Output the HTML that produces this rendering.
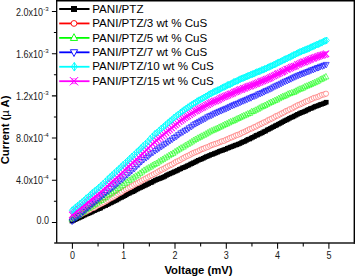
<!DOCTYPE html>
<html><head><meta charset="utf-8"><style>html,body{margin:0;padding:0;background:#fff;overflow:hidden}svg{display:block}text{font-family:"Liberation Sans",sans-serif}</style></head><body>
<svg width="355" height="276" viewBox="0 0 355 276">
<defs>
<symbol id="d-black" overflow="visible"><rect x="-2.3" y="-2.3" width="4.6" height="4.6" fill="#000"/></symbol>
<symbol id="d-red" overflow="visible"><circle r="2.6" fill="#fff" stroke="#ff5a5a" stroke-width="0.6"/></symbol>
<symbol id="d-green" overflow="visible"><path d="M0,-3.2 L3.0,2.3 L-3.0,2.3 Z" fill="none" stroke="#00ff00" stroke-width="0.55"/></symbol>
<symbol id="d-blue" overflow="visible"><path d="M0,3.2 L3.0,-2.3 L-3.0,-2.3 Z" fill="none" stroke="#0000ff" stroke-width="0.65"/></symbol>
<symbol id="d-cyan" overflow="visible"><path d="M0,-3.4 L2.8,0 L0,3.4 L-2.8,0 Z M0,-3.4 V3.4" fill="none" stroke="#00ffff" stroke-width="0.85"/></symbol>
<symbol id="d-magenta" overflow="visible"><path d="M-3.0,-3.3 L3.0,3.3 M3.0,-3.3 L-3.0,3.3" fill="none" stroke="#ff00ff" stroke-width="1.1"/></symbol>

<symbol id="l-black" overflow="visible"><rect x="-3" y="-3" width="6" height="6" fill="#000"/></symbol>
<symbol id="l-red" overflow="visible"><circle r="2.9" fill="#fff" stroke="#ff0000" stroke-width="0.9"/></symbol>
<symbol id="l-green" overflow="visible"><path d="M0,-4.2 L3.6,2.6 L-3.6,2.6 Z" fill="#fff" stroke="#00ff00" stroke-width="0.9"/></symbol>
<symbol id="l-blue" overflow="visible"><path d="M0,4.2 L3.6,-2.6 L-3.6,-2.6 Z" fill="#fff" stroke="#0000ff" stroke-width="0.9"/></symbol>
<symbol id="l-cyan" overflow="visible"><path d="M0.3,-4.3 L3.3,0 L0.3,4.3 L-2.7,0 Z" fill="none" stroke="#00ffff" stroke-width="0.9"/><path d="M0.4,-4.3 V4.3" stroke="#00ffff" stroke-width="1"/></symbol>
<symbol id="l-magenta" overflow="visible"><path d="M-4.2,-4.2 L4.2,4.2 M4.2,-4.2 L-4.2,4.2" fill="none" stroke="#ff00ff" stroke-width="1"/><path d="M-2.6,-2.4 L2.6,-2.4 L-2.6,2.4 L2.6,2.4 Z" fill="none" stroke="#ff00ff" stroke-width="0.6"/></symbol>
</defs>
<rect width="355" height="276" fill="#fff"/>
<g><use href="#d-black" x="71.9" y="221.1"/><use href="#d-black" x="73.6" y="220.4"/><use href="#d-black" x="75.2" y="219.7"/><use href="#d-black" x="76.8" y="218.8"/><use href="#d-black" x="78.5" y="218.1"/><use href="#d-black" x="80.1" y="217.4"/><use href="#d-black" x="81.6" y="216.7"/><use href="#d-black" x="83.1" y="215.9"/><use href="#d-black" x="84.8" y="215.1"/><use href="#d-black" x="86.3" y="214.3"/><use href="#d-black" x="88.1" y="213.7"/><use href="#d-black" x="89.7" y="212.9"/><use href="#d-black" x="91.3" y="212.3"/><use href="#d-black" x="92.8" y="211.4"/><use href="#d-black" x="94.5" y="210.7"/><use href="#d-black" x="95.8" y="209.9"/><use href="#d-black" x="97.5" y="209.4"/><use href="#d-black" x="99.2" y="208.7"/><use href="#d-black" x="100.7" y="208.1"/><use href="#d-black" x="102.5" y="206.9"/><use href="#d-black" x="103.8" y="206.1"/><use href="#d-black" x="105.7" y="205.6"/><use href="#d-black" x="107.2" y="204.7"/><use href="#d-black" x="108.8" y="203.9"/><use href="#d-black" x="110.5" y="203.0"/><use href="#d-black" x="111.9" y="202.4"/><use href="#d-black" x="113.5" y="201.5"/><use href="#d-black" x="115.1" y="200.8"/><use href="#d-black" x="116.8" y="200.0"/><use href="#d-black" x="118.4" y="199.0"/><use href="#d-black" x="120.0" y="198.0"/><use href="#d-black" x="121.6" y="197.4"/><use href="#d-black" x="123.2" y="196.6"/><use href="#d-black" x="124.9" y="195.7"/><use href="#d-black" x="126.4" y="194.8"/><use href="#d-black" x="128.0" y="193.8"/><use href="#d-black" x="129.5" y="193.2"/><use href="#d-black" x="131.2" y="192.3"/><use href="#d-black" x="132.9" y="191.7"/><use href="#d-black" x="134.4" y="190.9"/><use href="#d-black" x="136.0" y="189.9"/><use href="#d-black" x="137.6" y="189.0"/><use href="#d-black" x="139.2" y="188.2"/><use href="#d-black" x="140.8" y="187.5"/><use href="#d-black" x="142.4" y="186.8"/><use href="#d-black" x="144.1" y="185.9"/><use href="#d-black" x="145.6" y="185.2"/><use href="#d-black" x="147.2" y="184.5"/><use href="#d-black" x="148.7" y="183.6"/><use href="#d-black" x="150.4" y="182.8"/><use href="#d-black" x="151.9" y="182.3"/><use href="#d-black" x="153.5" y="181.2"/><use href="#d-black" x="155.3" y="180.4"/><use href="#d-black" x="156.9" y="179.6"/><use href="#d-black" x="158.3" y="179.0"/><use href="#d-black" x="160.1" y="178.5"/><use href="#d-black" x="161.5" y="177.8"/><use href="#d-black" x="163.2" y="177.2"/><use href="#d-black" x="164.8" y="176.4"/><use href="#d-black" x="166.4" y="175.4"/><use href="#d-black" x="167.9" y="174.6"/><use href="#d-black" x="169.6" y="173.9"/><use href="#d-black" x="171.2" y="173.2"/><use href="#d-black" x="172.9" y="172.5"/><use href="#d-black" x="174.2" y="171.8"/><use href="#d-black" x="176.0" y="171.1"/><use href="#d-black" x="177.5" y="170.4"/><use href="#d-black" x="179.2" y="169.4"/><use href="#d-black" x="180.8" y="168.8"/><use href="#d-black" x="182.5" y="167.8"/><use href="#d-black" x="184.1" y="167.4"/><use href="#d-black" x="185.7" y="166.6"/><use href="#d-black" x="187.2" y="165.8"/><use href="#d-black" x="188.9" y="165.1"/><use href="#d-black" x="190.6" y="164.1"/><use href="#d-black" x="192.0" y="163.6"/><use href="#d-black" x="193.5" y="162.7"/><use href="#d-black" x="195.3" y="162.0"/><use href="#d-black" x="196.8" y="161.1"/><use href="#d-black" x="198.3" y="160.3"/><use href="#d-black" x="200.1" y="159.6"/><use href="#d-black" x="201.6" y="159.0"/><use href="#d-black" x="203.3" y="158.3"/><use href="#d-black" x="204.9" y="157.4"/><use href="#d-black" x="206.3" y="156.7"/><use href="#d-black" x="208.0" y="156.1"/><use href="#d-black" x="209.6" y="155.4"/><use href="#d-black" x="211.2" y="154.6"/><use href="#d-black" x="212.9" y="154.2"/><use href="#d-black" x="214.3" y="153.5"/><use href="#d-black" x="215.9" y="152.9"/><use href="#d-black" x="217.6" y="152.2"/><use href="#d-black" x="219.2" y="151.4"/><use href="#d-black" x="220.8" y="150.8"/><use href="#d-black" x="222.5" y="150.4"/><use href="#d-black" x="223.9" y="149.7"/><use href="#d-black" x="225.6" y="149.2"/><use href="#d-black" x="227.3" y="148.3"/><use href="#d-black" x="228.8" y="147.8"/><use href="#d-black" x="230.4" y="147.1"/><use href="#d-black" x="232.0" y="146.6"/><use href="#d-black" x="233.6" y="145.9"/><use href="#d-black" x="235.2" y="145.2"/><use href="#d-black" x="236.8" y="144.8"/><use href="#d-black" x="238.3" y="144.1"/><use href="#d-black" x="240.0" y="143.5"/><use href="#d-black" x="241.7" y="142.5"/><use href="#d-black" x="243.2" y="141.9"/><use href="#d-black" x="244.9" y="141.3"/><use href="#d-black" x="246.4" y="140.4"/><use href="#d-black" x="247.9" y="139.4"/><use href="#d-black" x="249.7" y="139.0"/><use href="#d-black" x="251.2" y="138.1"/><use href="#d-black" x="252.7" y="137.3"/><use href="#d-black" x="254.4" y="136.6"/><use href="#d-black" x="256.0" y="135.4"/><use href="#d-black" x="257.6" y="135.0"/><use href="#d-black" x="259.2" y="134.1"/><use href="#d-black" x="260.8" y="133.3"/><use href="#d-black" x="262.3" y="132.8"/><use href="#d-black" x="263.9" y="131.7"/><use href="#d-black" x="265.6" y="131.1"/><use href="#d-black" x="267.2" y="129.9"/><use href="#d-black" x="268.8" y="129.2"/><use href="#d-black" x="270.4" y="128.4"/><use href="#d-black" x="272.0" y="127.5"/><use href="#d-black" x="273.6" y="126.7"/><use href="#d-black" x="275.3" y="125.8"/><use href="#d-black" x="276.7" y="125.1"/><use href="#d-black" x="278.4" y="124.2"/><use href="#d-black" x="280.0" y="123.4"/><use href="#d-black" x="281.6" y="122.5"/><use href="#d-black" x="283.1" y="121.7"/><use href="#d-black" x="284.8" y="120.7"/><use href="#d-black" x="286.5" y="120.0"/><use href="#d-black" x="288.0" y="119.2"/><use href="#d-black" x="289.5" y="118.3"/><use href="#d-black" x="291.1" y="117.5"/><use href="#d-black" x="292.8" y="116.9"/><use href="#d-black" x="294.2" y="116.1"/><use href="#d-black" x="296.0" y="115.2"/><use href="#d-black" x="297.5" y="114.3"/><use href="#d-black" x="299.3" y="113.6"/><use href="#d-black" x="300.8" y="112.8"/><use href="#d-black" x="302.4" y="112.3"/><use href="#d-black" x="304.0" y="111.6"/><use href="#d-black" x="305.6" y="111.0"/><use href="#d-black" x="307.1" y="110.1"/><use href="#d-black" x="308.7" y="109.4"/><use href="#d-black" x="310.4" y="108.5"/><use href="#d-black" x="312.0" y="108.1"/><use href="#d-black" x="313.8" y="107.2"/><use href="#d-black" x="315.1" y="106.5"/><use href="#d-black" x="316.8" y="106.0"/><use href="#d-black" x="318.4" y="105.5"/><use href="#d-black" x="320.0" y="104.6"/><use href="#d-black" x="321.6" y="104.2"/><use href="#d-black" x="323.2" y="103.7"/><use href="#d-black" x="324.9" y="102.9"/><use href="#d-black" x="326.3" y="102.2"/></g>
<g><use href="#d-red" x="72.1" y="218.8"/><use href="#d-red" x="74.1" y="218.0"/><use href="#d-red" x="76.0" y="216.9"/><use href="#d-red" x="78.1" y="215.8"/><use href="#d-red" x="80.0" y="214.9"/><use href="#d-red" x="81.9" y="213.8"/><use href="#d-red" x="84.0" y="212.7"/><use href="#d-red" x="86.0" y="211.8"/><use href="#d-red" x="87.9" y="210.7"/><use href="#d-red" x="89.9" y="209.8"/><use href="#d-red" x="91.9" y="208.5"/><use href="#d-red" x="94.1" y="207.8"/><use href="#d-red" x="96.0" y="206.6"/><use href="#d-red" x="98.0" y="205.4"/><use href="#d-red" x="99.9" y="204.5"/><use href="#d-red" x="102.0" y="203.5"/><use href="#d-red" x="103.9" y="202.4"/><use href="#d-red" x="106.2" y="201.2"/><use href="#d-red" x="107.9" y="200.0"/><use href="#d-red" x="109.9" y="198.8"/><use href="#d-red" x="112.0" y="197.8"/><use href="#d-red" x="114.0" y="196.7"/><use href="#d-red" x="116.0" y="195.4"/><use href="#d-red" x="118.0" y="194.1"/><use href="#d-red" x="120.0" y="193.0"/><use href="#d-red" x="121.8" y="191.9"/><use href="#d-red" x="123.9" y="190.5"/><use href="#d-red" x="126.0" y="189.4"/><use href="#d-red" x="127.9" y="188.3"/><use href="#d-red" x="130.1" y="187.3"/><use href="#d-red" x="132.0" y="186.1"/><use href="#d-red" x="134.1" y="184.8"/><use href="#d-red" x="136.0" y="183.7"/><use href="#d-red" x="138.0" y="182.9"/><use href="#d-red" x="140.0" y="181.7"/><use href="#d-red" x="141.9" y="180.6"/><use href="#d-red" x="144.0" y="179.4"/><use href="#d-red" x="146.0" y="178.4"/><use href="#d-red" x="148.0" y="177.3"/><use href="#d-red" x="150.0" y="176.1"/><use href="#d-red" x="151.9" y="175.2"/><use href="#d-red" x="154.0" y="174.0"/><use href="#d-red" x="156.1" y="172.9"/><use href="#d-red" x="158.1" y="171.7"/><use href="#d-red" x="160.1" y="170.5"/><use href="#d-red" x="161.8" y="169.6"/><use href="#d-red" x="164.1" y="168.6"/><use href="#d-red" x="165.9" y="167.5"/><use href="#d-red" x="167.9" y="166.3"/><use href="#d-red" x="170.0" y="165.3"/><use href="#d-red" x="171.9" y="164.5"/><use href="#d-red" x="174.0" y="163.2"/><use href="#d-red" x="175.9" y="161.9"/><use href="#d-red" x="177.9" y="161.1"/><use href="#d-red" x="180.0" y="160.1"/><use href="#d-red" x="182.1" y="158.7"/><use href="#d-red" x="184.0" y="157.8"/><use href="#d-red" x="186.0" y="156.6"/><use href="#d-red" x="188.0" y="155.8"/><use href="#d-red" x="190.0" y="154.8"/><use href="#d-red" x="192.0" y="153.6"/><use href="#d-red" x="194.0" y="152.7"/><use href="#d-red" x="196.0" y="151.9"/><use href="#d-red" x="198.0" y="151.2"/><use href="#d-red" x="200.0" y="150.1"/><use href="#d-red" x="202.0" y="149.1"/><use href="#d-red" x="203.9" y="148.5"/><use href="#d-red" x="205.9" y="147.6"/><use href="#d-red" x="208.1" y="146.9"/><use href="#d-red" x="210.1" y="145.8"/><use href="#d-red" x="212.0" y="145.0"/><use href="#d-red" x="214.0" y="144.3"/><use href="#d-red" x="216.0" y="143.7"/><use href="#d-red" x="218.0" y="143.0"/><use href="#d-red" x="220.1" y="142.1"/><use href="#d-red" x="221.9" y="141.3"/><use href="#d-red" x="224.1" y="140.8"/><use href="#d-red" x="226.1" y="139.7"/><use href="#d-red" x="228.0" y="139.0"/><use href="#d-red" x="230.0" y="137.9"/><use href="#d-red" x="231.9" y="137.3"/><use href="#d-red" x="234.0" y="136.4"/><use href="#d-red" x="236.0" y="135.4"/><use href="#d-red" x="237.9" y="134.8"/><use href="#d-red" x="240.1" y="134.0"/><use href="#d-red" x="241.8" y="132.9"/><use href="#d-red" x="243.9" y="132.1"/><use href="#d-red" x="246.1" y="131.0"/><use href="#d-red" x="247.9" y="130.1"/><use href="#d-red" x="249.9" y="129.0"/><use href="#d-red" x="252.0" y="128.4"/><use href="#d-red" x="253.9" y="127.3"/><use href="#d-red" x="256.0" y="126.5"/><use href="#d-red" x="258.0" y="125.3"/><use href="#d-red" x="260.1" y="124.3"/><use href="#d-red" x="261.9" y="123.5"/><use href="#d-red" x="263.9" y="122.4"/><use href="#d-red" x="266.2" y="121.5"/><use href="#d-red" x="268.0" y="120.2"/><use href="#d-red" x="269.9" y="119.4"/><use href="#d-red" x="271.9" y="118.5"/><use href="#d-red" x="274.1" y="117.4"/><use href="#d-red" x="276.0" y="116.1"/><use href="#d-red" x="278.1" y="115.4"/><use href="#d-red" x="280.1" y="114.3"/><use href="#d-red" x="282.0" y="113.3"/><use href="#d-red" x="284.1" y="112.3"/><use href="#d-red" x="286.0" y="111.0"/><use href="#d-red" x="288.1" y="110.3"/><use href="#d-red" x="289.9" y="109.2"/><use href="#d-red" x="292.2" y="108.4"/><use href="#d-red" x="294.1" y="107.2"/><use href="#d-red" x="296.0" y="106.2"/><use href="#d-red" x="298.0" y="105.1"/><use href="#d-red" x="300.1" y="104.4"/><use href="#d-red" x="301.9" y="103.5"/><use href="#d-red" x="304.0" y="102.5"/><use href="#d-red" x="305.9" y="101.5"/><use href="#d-red" x="307.9" y="100.9"/><use href="#d-red" x="310.1" y="99.7"/><use href="#d-red" x="311.9" y="99.0"/><use href="#d-red" x="313.9" y="97.9"/><use href="#d-red" x="316.0" y="97.4"/><use href="#d-red" x="318.1" y="96.8"/><use href="#d-red" x="319.9" y="95.8"/><use href="#d-red" x="322.0" y="94.9"/><use href="#d-red" x="324.2" y="94.4"/><use href="#d-red" x="326.0" y="93.7"/></g>
<g><use href="#d-green" x="71.9" y="218.9"/><use href="#d-green" x="73.8" y="218.0"/><use href="#d-green" x="76.0" y="216.6"/><use href="#d-green" x="78.1" y="215.4"/><use href="#d-green" x="80.1" y="213.8"/><use href="#d-green" x="82.4" y="212.2"/><use href="#d-green" x="84.2" y="211.1"/><use href="#d-green" x="86.4" y="209.5"/><use href="#d-green" x="88.5" y="208.2"/><use href="#d-green" x="90.7" y="206.8"/><use href="#d-green" x="92.7" y="205.7"/><use href="#d-green" x="94.8" y="204.2"/><use href="#d-green" x="97.0" y="202.8"/><use href="#d-green" x="99.0" y="201.4"/><use href="#d-green" x="101.1" y="200.2"/><use href="#d-green" x="103.4" y="198.6"/><use href="#d-green" x="105.5" y="197.2"/><use href="#d-green" x="107.6" y="195.5"/><use href="#d-green" x="109.7" y="194.0"/><use href="#d-green" x="111.9" y="192.8"/><use href="#d-green" x="114.0" y="191.1"/><use href="#d-green" x="116.0" y="189.8"/><use href="#d-green" x="118.4" y="188.2"/><use href="#d-green" x="120.6" y="186.7"/><use href="#d-green" x="122.7" y="185.1"/><use href="#d-green" x="124.8" y="183.3"/><use href="#d-green" x="127.1" y="181.8"/><use href="#d-green" x="129.2" y="180.2"/><use href="#d-green" x="131.5" y="178.8"/><use href="#d-green" x="133.6" y="177.4"/><use href="#d-green" x="135.7" y="175.9"/><use href="#d-green" x="137.9" y="174.8"/><use href="#d-green" x="140.0" y="173.1"/><use href="#d-green" x="142.0" y="171.7"/><use href="#d-green" x="144.1" y="170.1"/><use href="#d-green" x="146.4" y="168.9"/><use href="#d-green" x="148.4" y="167.7"/><use href="#d-green" x="150.5" y="166.7"/><use href="#d-green" x="152.4" y="165.4"/><use href="#d-green" x="154.3" y="164.2"/><use href="#d-green" x="156.5" y="163.2"/><use href="#d-green" x="158.5" y="161.7"/><use href="#d-green" x="160.6" y="160.5"/><use href="#d-green" x="162.6" y="159.3"/><use href="#d-green" x="164.6" y="157.9"/><use href="#d-green" x="166.8" y="156.8"/><use href="#d-green" x="168.9" y="155.4"/><use href="#d-green" x="170.9" y="154.2"/><use href="#d-green" x="173.0" y="153.1"/><use href="#d-green" x="175.0" y="151.6"/><use href="#d-green" x="177.1" y="150.4"/><use href="#d-green" x="179.1" y="149.0"/><use href="#d-green" x="181.1" y="147.8"/><use href="#d-green" x="183.3" y="146.8"/><use href="#d-green" x="185.3" y="145.4"/><use href="#d-green" x="187.5" y="144.1"/><use href="#d-green" x="189.5" y="142.9"/><use href="#d-green" x="191.5" y="141.7"/><use href="#d-green" x="193.5" y="140.4"/><use href="#d-green" x="195.5" y="139.2"/><use href="#d-green" x="197.6" y="138.0"/><use href="#d-green" x="199.6" y="137.1"/><use href="#d-green" x="201.4" y="136.0"/><use href="#d-green" x="203.6" y="135.0"/><use href="#d-green" x="205.6" y="133.9"/><use href="#d-green" x="207.5" y="132.8"/><use href="#d-green" x="209.4" y="131.7"/><use href="#d-green" x="211.4" y="130.7"/><use href="#d-green" x="213.4" y="129.9"/><use href="#d-green" x="215.3" y="129.0"/><use href="#d-green" x="217.2" y="128.2"/><use href="#d-green" x="219.1" y="127.1"/><use href="#d-green" x="221.0" y="126.4"/><use href="#d-green" x="223.0" y="125.3"/><use href="#d-green" x="224.9" y="124.3"/><use href="#d-green" x="226.8" y="123.6"/><use href="#d-green" x="228.7" y="122.6"/><use href="#d-green" x="230.5" y="121.6"/><use href="#d-green" x="232.6" y="120.9"/><use href="#d-green" x="234.4" y="120.1"/><use href="#d-green" x="236.3" y="119.0"/><use href="#d-green" x="238.2" y="118.2"/><use href="#d-green" x="240.1" y="117.3"/><use href="#d-green" x="241.9" y="116.4"/><use href="#d-green" x="243.8" y="115.5"/><use href="#d-green" x="245.9" y="114.7"/><use href="#d-green" x="247.7" y="113.7"/><use href="#d-green" x="249.7" y="113.1"/><use href="#d-green" x="251.5" y="111.6"/><use href="#d-green" x="253.4" y="111.1"/><use href="#d-green" x="255.4" y="110.0"/><use href="#d-green" x="257.5" y="109.0"/><use href="#d-green" x="259.3" y="107.9"/><use href="#d-green" x="261.3" y="106.8"/><use href="#d-green" x="263.1" y="106.1"/><use href="#d-green" x="265.0" y="105.2"/><use href="#d-green" x="267.0" y="104.1"/><use href="#d-green" x="269.0" y="103.0"/><use href="#d-green" x="270.9" y="102.2"/><use href="#d-green" x="272.9" y="101.3"/><use href="#d-green" x="274.9" y="100.3"/><use href="#d-green" x="276.8" y="99.6"/><use href="#d-green" x="278.7" y="98.4"/><use href="#d-green" x="280.7" y="97.4"/><use href="#d-green" x="282.5" y="96.5"/><use href="#d-green" x="284.3" y="95.9"/><use href="#d-green" x="286.2" y="95.0"/><use href="#d-green" x="288.0" y="93.9"/><use href="#d-green" x="289.9" y="93.3"/><use href="#d-green" x="291.9" y="92.5"/><use href="#d-green" x="294.0" y="92.0"/><use href="#d-green" x="295.6" y="91.0"/><use href="#d-green" x="297.4" y="90.0"/><use href="#d-green" x="299.3" y="89.0"/><use href="#d-green" x="301.2" y="88.5"/><use href="#d-green" x="303.1" y="87.7"/><use href="#d-green" x="304.9" y="86.5"/><use href="#d-green" x="306.9" y="85.8"/><use href="#d-green" x="308.9" y="85.0"/><use href="#d-green" x="310.6" y="84.2"/><use href="#d-green" x="312.5" y="83.3"/><use href="#d-green" x="314.4" y="82.5"/><use href="#d-green" x="316.4" y="81.6"/><use href="#d-green" x="318.2" y="80.7"/><use href="#d-green" x="320.3" y="79.4"/><use href="#d-green" x="322.1" y="78.6"/><use href="#d-green" x="324.0" y="77.6"/><use href="#d-green" x="325.9" y="76.6"/></g>
<g><use href="#d-blue" x="72.1" y="221.4"/><use href="#d-blue" x="73.8" y="220.0"/><use href="#d-blue" x="76.2" y="218.1"/><use href="#d-blue" x="78.4" y="215.9"/><use href="#d-blue" x="80.9" y="214.4"/><use href="#d-blue" x="83.2" y="212.0"/><use href="#d-blue" x="85.4" y="210.1"/><use href="#d-blue" x="87.7" y="208.1"/><use href="#d-blue" x="90.1" y="206.3"/><use href="#d-blue" x="92.4" y="204.2"/><use href="#d-blue" x="94.7" y="202.3"/><use href="#d-blue" x="97.0" y="200.5"/><use href="#d-blue" x="99.3" y="198.4"/><use href="#d-blue" x="101.7" y="196.4"/><use href="#d-blue" x="104.0" y="194.8"/><use href="#d-blue" x="106.1" y="192.6"/><use href="#d-blue" x="108.6" y="191.2"/><use href="#d-blue" x="110.9" y="188.9"/><use href="#d-blue" x="113.2" y="187.3"/><use href="#d-blue" x="115.5" y="185.2"/><use href="#d-blue" x="117.7" y="183.3"/><use href="#d-blue" x="120.1" y="181.1"/><use href="#d-blue" x="122.5" y="179.3"/><use href="#d-blue" x="124.7" y="177.1"/><use href="#d-blue" x="127.2" y="174.9"/><use href="#d-blue" x="129.5" y="172.9"/><use href="#d-blue" x="131.8" y="170.9"/><use href="#d-blue" x="134.4" y="168.7"/><use href="#d-blue" x="136.6" y="166.4"/><use href="#d-blue" x="139.0" y="164.3"/><use href="#d-blue" x="141.4" y="161.8"/><use href="#d-blue" x="143.7" y="159.8"/><use href="#d-blue" x="146.2" y="157.9"/><use href="#d-blue" x="148.4" y="156.3"/><use href="#d-blue" x="150.6" y="154.1"/><use href="#d-blue" x="152.9" y="152.7"/><use href="#d-blue" x="155.2" y="150.9"/><use href="#d-blue" x="157.4" y="149.5"/><use href="#d-blue" x="159.3" y="148.1"/><use href="#d-blue" x="161.6" y="146.6"/><use href="#d-blue" x="163.8" y="145.1"/><use href="#d-blue" x="165.8" y="143.7"/><use href="#d-blue" x="168.1" y="142.3"/><use href="#d-blue" x="170.1" y="140.7"/><use href="#d-blue" x="172.3" y="139.4"/><use href="#d-blue" x="174.4" y="137.8"/><use href="#d-blue" x="176.6" y="136.5"/><use href="#d-blue" x="178.6" y="134.9"/><use href="#d-blue" x="180.8" y="133.2"/><use href="#d-blue" x="182.9" y="132.2"/><use href="#d-blue" x="185.0" y="130.7"/><use href="#d-blue" x="187.2" y="129.6"/><use href="#d-blue" x="189.2" y="128.1"/><use href="#d-blue" x="191.5" y="126.7"/><use href="#d-blue" x="193.5" y="125.1"/><use href="#d-blue" x="195.6" y="123.9"/><use href="#d-blue" x="197.6" y="122.8"/><use href="#d-blue" x="199.5" y="121.7"/><use href="#d-blue" x="201.6" y="120.5"/><use href="#d-blue" x="203.6" y="119.4"/><use href="#d-blue" x="205.6" y="118.5"/><use href="#d-blue" x="207.6" y="117.1"/><use href="#d-blue" x="209.7" y="116.1"/><use href="#d-blue" x="211.6" y="115.4"/><use href="#d-blue" x="213.4" y="114.3"/><use href="#d-blue" x="215.4" y="113.3"/><use href="#d-blue" x="217.3" y="112.6"/><use href="#d-blue" x="219.0" y="111.7"/><use href="#d-blue" x="221.1" y="110.9"/><use href="#d-blue" x="222.9" y="110.0"/><use href="#d-blue" x="224.8" y="109.2"/><use href="#d-blue" x="226.6" y="108.5"/><use href="#d-blue" x="228.6" y="107.6"/><use href="#d-blue" x="230.3" y="106.7"/><use href="#d-blue" x="232.4" y="105.7"/><use href="#d-blue" x="234.2" y="105.0"/><use href="#d-blue" x="236.0" y="104.1"/><use href="#d-blue" x="238.0" y="103.5"/><use href="#d-blue" x="240.0" y="102.6"/><use href="#d-blue" x="241.7" y="101.6"/><use href="#d-blue" x="243.6" y="101.0"/><use href="#d-blue" x="245.5" y="100.1"/><use href="#d-blue" x="247.3" y="99.4"/><use href="#d-blue" x="249.2" y="98.4"/><use href="#d-blue" x="251.0" y="98.0"/><use href="#d-blue" x="252.8" y="96.8"/><use href="#d-blue" x="254.7" y="96.2"/><use href="#d-blue" x="256.7" y="95.4"/><use href="#d-blue" x="258.6" y="94.2"/><use href="#d-blue" x="260.4" y="93.6"/><use href="#d-blue" x="262.3" y="92.9"/><use href="#d-blue" x="264.2" y="91.9"/><use href="#d-blue" x="265.9" y="90.9"/><use href="#d-blue" x="267.9" y="90.2"/><use href="#d-blue" x="269.9" y="89.2"/><use href="#d-blue" x="271.8" y="88.4"/><use href="#d-blue" x="273.7" y="87.2"/><use href="#d-blue" x="275.7" y="86.2"/><use href="#d-blue" x="277.6" y="85.3"/><use href="#d-blue" x="279.5" y="84.5"/><use href="#d-blue" x="281.5" y="83.5"/><use href="#d-blue" x="283.4" y="82.4"/><use href="#d-blue" x="285.3" y="81.5"/><use href="#d-blue" x="287.3" y="80.8"/><use href="#d-blue" x="289.1" y="79.8"/><use href="#d-blue" x="291.0" y="79.0"/><use href="#d-blue" x="292.9" y="78.0"/><use href="#d-blue" x="294.8" y="77.1"/><use href="#d-blue" x="296.7" y="76.2"/><use href="#d-blue" x="298.6" y="75.4"/><use href="#d-blue" x="300.5" y="74.8"/><use href="#d-blue" x="302.4" y="73.7"/><use href="#d-blue" x="304.1" y="73.3"/><use href="#d-blue" x="305.9" y="72.5"/><use href="#d-blue" x="307.9" y="71.8"/><use href="#d-blue" x="309.7" y="71.1"/><use href="#d-blue" x="311.4" y="70.2"/><use href="#d-blue" x="313.3" y="69.7"/><use href="#d-blue" x="315.1" y="68.9"/><use href="#d-blue" x="317.1" y="68.0"/><use href="#d-blue" x="318.7" y="67.7"/><use href="#d-blue" x="320.5" y="66.6"/><use href="#d-blue" x="322.6" y="66.2"/><use href="#d-blue" x="324.2" y="65.5"/><use href="#d-blue" x="326.2" y="64.7"/></g>
<g><use href="#d-magenta" x="72.1" y="214.9"/><use href="#d-magenta" x="73.4" y="213.8"/><use href="#d-magenta" x="75.4" y="212.5"/><use href="#d-magenta" x="77.2" y="211.0"/><use href="#d-magenta" x="79.0" y="209.5"/><use href="#d-magenta" x="80.9" y="207.9"/><use href="#d-magenta" x="82.8" y="206.6"/><use href="#d-magenta" x="84.5" y="205.1"/><use href="#d-magenta" x="86.5" y="203.7"/><use href="#d-magenta" x="88.3" y="202.3"/><use href="#d-magenta" x="90.1" y="200.6"/><use href="#d-magenta" x="92.0" y="199.3"/><use href="#d-magenta" x="93.9" y="197.9"/><use href="#d-magenta" x="95.8" y="196.4"/><use href="#d-magenta" x="97.4" y="195.0"/><use href="#d-magenta" x="99.3" y="193.7"/><use href="#d-magenta" x="101.1" y="191.9"/><use href="#d-magenta" x="103.1" y="190.0"/><use href="#d-magenta" x="105.2" y="188.3"/><use href="#d-magenta" x="107.2" y="186.5"/><use href="#d-magenta" x="109.0" y="184.6"/><use href="#d-magenta" x="111.0" y="182.9"/><use href="#d-magenta" x="113.0" y="181.1"/><use href="#d-magenta" x="114.9" y="179.3"/><use href="#d-magenta" x="116.9" y="177.5"/><use href="#d-magenta" x="119.0" y="175.8"/><use href="#d-magenta" x="120.9" y="174.1"/><use href="#d-magenta" x="122.8" y="172.3"/><use href="#d-magenta" x="124.7" y="170.0"/><use href="#d-magenta" x="126.7" y="168.1"/><use href="#d-magenta" x="128.7" y="166.6"/><use href="#d-magenta" x="130.5" y="164.6"/><use href="#d-magenta" x="132.7" y="162.9"/><use href="#d-magenta" x="134.6" y="161.1"/><use href="#d-magenta" x="136.6" y="159.5"/><use href="#d-magenta" x="138.6" y="157.5"/><use href="#d-magenta" x="140.5" y="155.3"/><use href="#d-magenta" x="142.7" y="154.0"/><use href="#d-magenta" x="144.5" y="151.8"/><use href="#d-magenta" x="146.5" y="149.9"/><use href="#d-magenta" x="148.4" y="148.1"/><use href="#d-magenta" x="150.7" y="146.2"/><use href="#d-magenta" x="152.5" y="143.9"/><use href="#d-magenta" x="154.6" y="142.0"/><use href="#d-magenta" x="156.6" y="140.5"/><use href="#d-magenta" x="158.4" y="138.7"/><use href="#d-magenta" x="160.4" y="137.3"/><use href="#d-magenta" x="162.2" y="135.7"/><use href="#d-magenta" x="164.1" y="134.2"/><use href="#d-magenta" x="166.1" y="132.5"/><use href="#d-magenta" x="168.0" y="130.9"/><use href="#d-magenta" x="169.7" y="129.3"/><use href="#d-magenta" x="171.7" y="127.9"/><use href="#d-magenta" x="173.7" y="126.1"/><use href="#d-magenta" x="175.5" y="124.9"/><use href="#d-magenta" x="177.3" y="123.3"/><use href="#d-magenta" x="179.3" y="121.5"/><use href="#d-magenta" x="181.2" y="120.3"/><use href="#d-magenta" x="182.8" y="119.0"/><use href="#d-magenta" x="184.6" y="117.9"/><use href="#d-magenta" x="186.4" y="116.8"/><use href="#d-magenta" x="187.9" y="115.8"/><use href="#d-magenta" x="189.8" y="114.6"/><use href="#d-magenta" x="191.5" y="113.4"/><use href="#d-magenta" x="193.1" y="112.3"/><use href="#d-magenta" x="195.0" y="111.2"/><use href="#d-magenta" x="196.6" y="110.6"/><use href="#d-magenta" x="198.2" y="109.5"/><use href="#d-magenta" x="199.7" y="108.6"/><use href="#d-magenta" x="201.4" y="107.8"/><use href="#d-magenta" x="203.0" y="107.1"/><use href="#d-magenta" x="204.6" y="106.2"/><use href="#d-magenta" x="206.3" y="105.2"/><use href="#d-magenta" x="207.9" y="104.5"/><use href="#d-magenta" x="209.6" y="103.5"/><use href="#d-magenta" x="211.1" y="102.7"/><use href="#d-magenta" x="212.7" y="101.9"/><use href="#d-magenta" x="214.3" y="101.2"/><use href="#d-magenta" x="215.8" y="100.8"/><use href="#d-magenta" x="217.5" y="100.1"/><use href="#d-magenta" x="218.9" y="99.3"/><use href="#d-magenta" x="220.5" y="98.4"/><use href="#d-magenta" x="222.0" y="97.6"/><use href="#d-magenta" x="223.6" y="96.9"/><use href="#d-magenta" x="225.2" y="96.3"/><use href="#d-magenta" x="226.6" y="95.7"/><use href="#d-magenta" x="228.2" y="95.1"/><use href="#d-magenta" x="229.7" y="94.2"/><use href="#d-magenta" x="231.3" y="93.9"/><use href="#d-magenta" x="232.9" y="93.1"/><use href="#d-magenta" x="234.4" y="92.2"/><use href="#d-magenta" x="235.9" y="91.6"/><use href="#d-magenta" x="237.4" y="91.1"/><use href="#d-magenta" x="238.8" y="90.2"/><use href="#d-magenta" x="240.3" y="89.7"/><use href="#d-magenta" x="241.9" y="89.3"/><use href="#d-magenta" x="243.3" y="88.4"/><use href="#d-magenta" x="244.9" y="88.2"/><use href="#d-magenta" x="246.5" y="87.4"/><use href="#d-magenta" x="247.8" y="86.6"/><use href="#d-magenta" x="249.5" y="86.2"/><use href="#d-magenta" x="250.8" y="85.8"/><use href="#d-magenta" x="252.4" y="85.2"/><use href="#d-magenta" x="253.9" y="84.6"/><use href="#d-magenta" x="255.5" y="83.9"/><use href="#d-magenta" x="256.9" y="83.3"/><use href="#d-magenta" x="258.4" y="82.6"/><use href="#d-magenta" x="260.2" y="82.0"/><use href="#d-magenta" x="261.5" y="81.2"/><use href="#d-magenta" x="263.0" y="80.9"/><use href="#d-magenta" x="264.5" y="80.2"/><use href="#d-magenta" x="266.0" y="79.5"/><use href="#d-magenta" x="267.6" y="78.9"/><use href="#d-magenta" x="269.2" y="78.3"/><use href="#d-magenta" x="270.5" y="77.5"/><use href="#d-magenta" x="272.1" y="76.7"/><use href="#d-magenta" x="273.8" y="75.9"/><use href="#d-magenta" x="275.4" y="75.1"/><use href="#d-magenta" x="277.0" y="74.2"/><use href="#d-magenta" x="278.3" y="73.6"/><use href="#d-magenta" x="280.0" y="72.9"/><use href="#d-magenta" x="281.9" y="72.0"/><use href="#d-magenta" x="283.1" y="71.4"/><use href="#d-magenta" x="284.7" y="70.5"/><use href="#d-magenta" x="286.6" y="69.4"/><use href="#d-magenta" x="287.8" y="69.1"/><use href="#d-magenta" x="289.6" y="68.4"/><use href="#d-magenta" x="291.1" y="67.5"/><use href="#d-magenta" x="292.6" y="66.8"/><use href="#d-magenta" x="294.2" y="66.4"/><use href="#d-magenta" x="295.7" y="65.9"/><use href="#d-magenta" x="297.3" y="64.6"/><use href="#d-magenta" x="298.9" y="64.1"/><use href="#d-magenta" x="300.4" y="63.3"/><use href="#d-magenta" x="301.8" y="62.7"/><use href="#d-magenta" x="303.4" y="62.0"/><use href="#d-magenta" x="304.7" y="61.8"/><use href="#d-magenta" x="306.4" y="61.0"/><use href="#d-magenta" x="308.0" y="60.4"/><use href="#d-magenta" x="309.5" y="59.7"/><use href="#d-magenta" x="310.8" y="59.1"/><use href="#d-magenta" x="312.5" y="58.3"/><use href="#d-magenta" x="313.9" y="58.0"/><use href="#d-magenta" x="315.4" y="57.3"/><use href="#d-magenta" x="317.0" y="56.9"/><use href="#d-magenta" x="318.4" y="56.3"/><use href="#d-magenta" x="319.9" y="55.6"/><use href="#d-magenta" x="321.5" y="55.3"/><use href="#d-magenta" x="322.9" y="54.9"/><use href="#d-magenta" x="324.6" y="54.3"/><use href="#d-magenta" x="326.1" y="53.8"/></g>
<g><use href="#d-cyan" x="72.1" y="210.3"/><use href="#d-cyan" x="73.6" y="209.3"/><use href="#d-cyan" x="75.5" y="207.3"/><use href="#d-cyan" x="77.7" y="205.7"/><use href="#d-cyan" x="79.8" y="203.9"/><use href="#d-cyan" x="82.1" y="202.1"/><use href="#d-cyan" x="84.2" y="200.4"/><use href="#d-cyan" x="86.2" y="198.2"/><use href="#d-cyan" x="88.5" y="196.7"/><use href="#d-cyan" x="90.4" y="194.7"/><use href="#d-cyan" x="92.4" y="192.9"/><use href="#d-cyan" x="94.6" y="191.1"/><use href="#d-cyan" x="96.8" y="189.4"/><use href="#d-cyan" x="98.8" y="187.5"/><use href="#d-cyan" x="101.0" y="185.7"/><use href="#d-cyan" x="103.2" y="183.6"/><use href="#d-cyan" x="105.6" y="181.4"/><use href="#d-cyan" x="107.6" y="179.2"/><use href="#d-cyan" x="110.0" y="177.1"/><use href="#d-cyan" x="112.2" y="175.1"/><use href="#d-cyan" x="114.4" y="173.1"/><use href="#d-cyan" x="116.7" y="170.9"/><use href="#d-cyan" x="118.9" y="168.9"/><use href="#d-cyan" x="121.1" y="166.9"/><use href="#d-cyan" x="123.2" y="164.7"/><use href="#d-cyan" x="125.5" y="162.8"/><use href="#d-cyan" x="127.7" y="160.7"/><use href="#d-cyan" x="129.8" y="158.6"/><use href="#d-cyan" x="132.1" y="156.4"/><use href="#d-cyan" x="134.4" y="154.5"/><use href="#d-cyan" x="136.6" y="152.2"/><use href="#d-cyan" x="138.8" y="150.3"/><use href="#d-cyan" x="141.0" y="148.1"/><use href="#d-cyan" x="143.2" y="145.9"/><use href="#d-cyan" x="145.5" y="143.9"/><use href="#d-cyan" x="147.9" y="141.6"/><use href="#d-cyan" x="150.2" y="138.8"/><use href="#d-cyan" x="152.6" y="136.4"/><use href="#d-cyan" x="154.9" y="133.9"/><use href="#d-cyan" x="157.1" y="132.5"/><use href="#d-cyan" x="159.3" y="130.4"/><use href="#d-cyan" x="161.4" y="128.4"/><use href="#d-cyan" x="163.6" y="126.7"/><use href="#d-cyan" x="165.5" y="125.0"/><use href="#d-cyan" x="167.7" y="123.1"/><use href="#d-cyan" x="169.9" y="121.2"/><use href="#d-cyan" x="171.9" y="119.8"/><use href="#d-cyan" x="174.0" y="117.6"/><use href="#d-cyan" x="176.2" y="116.1"/><use href="#d-cyan" x="178.3" y="114.4"/><use href="#d-cyan" x="180.5" y="112.6"/><use href="#d-cyan" x="182.4" y="111.2"/><use href="#d-cyan" x="184.2" y="110.0"/><use href="#d-cyan" x="186.1" y="108.6"/><use href="#d-cyan" x="188.0" y="107.2"/><use href="#d-cyan" x="189.9" y="106.1"/><use href="#d-cyan" x="191.6" y="105.0"/><use href="#d-cyan" x="193.5" y="103.6"/><use href="#d-cyan" x="195.4" y="102.5"/><use href="#d-cyan" x="197.2" y="101.2"/><use href="#d-cyan" x="198.9" y="100.3"/><use href="#d-cyan" x="200.6" y="99.4"/><use href="#d-cyan" x="202.3" y="98.4"/><use href="#d-cyan" x="204.1" y="97.4"/><use href="#d-cyan" x="205.9" y="96.4"/><use href="#d-cyan" x="207.6" y="95.5"/><use href="#d-cyan" x="209.2" y="94.3"/><use href="#d-cyan" x="210.9" y="93.6"/><use href="#d-cyan" x="212.6" y="92.7"/><use href="#d-cyan" x="214.2" y="91.7"/><use href="#d-cyan" x="216.0" y="91.1"/><use href="#d-cyan" x="217.6" y="90.2"/><use href="#d-cyan" x="219.2" y="89.7"/><use href="#d-cyan" x="220.7" y="88.7"/><use href="#d-cyan" x="222.4" y="87.7"/><use href="#d-cyan" x="224.1" y="87.0"/><use href="#d-cyan" x="225.7" y="86.3"/><use href="#d-cyan" x="227.4" y="85.1"/><use href="#d-cyan" x="228.9" y="84.7"/><use href="#d-cyan" x="230.5" y="84.1"/><use href="#d-cyan" x="232.2" y="83.2"/><use href="#d-cyan" x="233.7" y="82.1"/><use href="#d-cyan" x="235.2" y="81.6"/><use href="#d-cyan" x="237.1" y="80.9"/><use href="#d-cyan" x="238.5" y="80.1"/><use href="#d-cyan" x="240.2" y="79.2"/><use href="#d-cyan" x="241.6" y="78.6"/><use href="#d-cyan" x="243.2" y="78.0"/><use href="#d-cyan" x="244.8" y="77.4"/><use href="#d-cyan" x="246.2" y="76.6"/><use href="#d-cyan" x="247.7" y="76.1"/><use href="#d-cyan" x="249.2" y="75.4"/><use href="#d-cyan" x="250.8" y="74.7"/><use href="#d-cyan" x="252.4" y="74.1"/><use href="#d-cyan" x="253.9" y="73.7"/><use href="#d-cyan" x="255.4" y="72.8"/><use href="#d-cyan" x="256.9" y="72.1"/><use href="#d-cyan" x="258.7" y="71.5"/><use href="#d-cyan" x="259.9" y="71.1"/><use href="#d-cyan" x="261.7" y="70.1"/><use href="#d-cyan" x="263.2" y="69.7"/><use href="#d-cyan" x="264.6" y="69.0"/><use href="#d-cyan" x="266.3" y="68.4"/><use href="#d-cyan" x="267.7" y="67.5"/><use href="#d-cyan" x="269.2" y="66.9"/><use href="#d-cyan" x="270.8" y="66.2"/><use href="#d-cyan" x="272.5" y="65.5"/><use href="#d-cyan" x="274.1" y="64.6"/><use href="#d-cyan" x="275.7" y="64.0"/><use href="#d-cyan" x="277.4" y="62.9"/><use href="#d-cyan" x="279.0" y="62.3"/><use href="#d-cyan" x="280.7" y="61.5"/><use href="#d-cyan" x="282.2" y="60.7"/><use href="#d-cyan" x="284.0" y="59.8"/><use href="#d-cyan" x="285.3" y="59.1"/><use href="#d-cyan" x="287.1" y="58.5"/><use href="#d-cyan" x="288.7" y="57.4"/><use href="#d-cyan" x="290.3" y="56.9"/><use href="#d-cyan" x="291.8" y="56.0"/><use href="#d-cyan" x="293.5" y="55.1"/><use href="#d-cyan" x="295.1" y="54.5"/><use href="#d-cyan" x="296.7" y="53.5"/><use href="#d-cyan" x="298.2" y="52.8"/><use href="#d-cyan" x="299.9" y="52.0"/><use href="#d-cyan" x="301.5" y="51.4"/><use href="#d-cyan" x="303.0" y="50.6"/><use href="#d-cyan" x="304.7" y="50.1"/><use href="#d-cyan" x="306.3" y="49.3"/><use href="#d-cyan" x="307.7" y="48.9"/><use href="#d-cyan" x="309.4" y="48.2"/><use href="#d-cyan" x="310.8" y="47.3"/><use href="#d-cyan" x="312.3" y="46.7"/><use href="#d-cyan" x="313.9" y="46.1"/><use href="#d-cyan" x="315.4" y="45.3"/><use href="#d-cyan" x="317.0" y="44.5"/><use href="#d-cyan" x="318.7" y="44.1"/><use href="#d-cyan" x="320.1" y="43.1"/><use href="#d-cyan" x="321.9" y="42.7"/><use href="#d-cyan" x="323.4" y="41.6"/><use href="#d-cyan" x="325.0" y="40.9"/><use href="#d-cyan" x="326.6" y="40.4"/></g>
<path d="M56.7,243.0 V-0.10000000000000009" stroke="#000" stroke-width="1.3" fill="none"/>
<path d="M56.050000000000004,0.7 H354.4 V243.8" stroke="#000" stroke-width="1.6" fill="none"/>
<path d="M54.2,243.0 H355.15" stroke="#1a1a1a" stroke-width="1.7" fill="none"/>
<path d="M72.40,243.0 V248.7 M123.70,243.0 V248.7 M175.00,243.0 V248.7 M226.30,243.0 V248.7 M277.60,243.0 V248.7 M328.90,243.0 V248.7 M98.05,243.0 V246.4 M149.35,243.0 V246.4 M200.65,243.0 V246.4 M251.95,243.0 V246.4 M303.25,243.0 V246.4 M56.7,222.40 H51.9 M56.7,180.22 H51.9 M56.7,138.04 H51.9 M56.7,95.86 H51.9 M56.7,53.68 H51.9 M56.7,11.50 H51.9 M56.7,201.31 H53.9 M56.7,159.13 H53.9 M56.7,116.95 H53.9 M56.7,74.77 H53.9 M56.7,32.59 H53.9" stroke="#000" stroke-width="1.05" fill="none"/>
<text transform="translate(72.40,258.80) scale(0.9,1)" font-size="10.0" text-anchor="middle" fill="#1a1a1a">0</text>
<text transform="translate(123.70,258.80) scale(0.9,1)" font-size="10.0" text-anchor="middle" fill="#1a1a1a">1</text>
<text transform="translate(175.00,258.80) scale(0.9,1)" font-size="10.0" text-anchor="middle" fill="#1a1a1a">2</text>
<text transform="translate(226.30,258.80) scale(0.9,1)" font-size="10.0" text-anchor="middle" fill="#1a1a1a">3</text>
<text transform="translate(277.60,258.80) scale(0.9,1)" font-size="10.0" text-anchor="middle" fill="#1a1a1a">4</text>
<text transform="translate(328.90,258.80) scale(0.9,1)" font-size="10.0" text-anchor="middle" fill="#1a1a1a">5</text>
<text transform="translate(49.00,223.90) scale(0.9,1)" font-size="10.0" text-anchor="end" fill="#1a1a1a">0.0</text>
<text transform="translate(43.00,184.32) scale(0.9,1)" font-size="10.0" text-anchor="end" fill="#1a1a1a">4.0x10</text>
<text x="43.3" y="179.22" font-size="6.1" fill="#1a1a1a">-4</text>
<text transform="translate(43.00,142.14) scale(0.9,1)" font-size="10.0" text-anchor="end" fill="#1a1a1a">8.0x10</text>
<text x="43.3" y="137.04" font-size="6.1" fill="#1a1a1a">-4</text>
<text transform="translate(43.00,99.96) scale(0.9,1)" font-size="10.0" text-anchor="end" fill="#1a1a1a">1.2x10</text>
<text x="43.3" y="94.86" font-size="6.1" fill="#1a1a1a">-3</text>
<text transform="translate(43.00,57.78) scale(0.9,1)" font-size="10.0" text-anchor="end" fill="#1a1a1a">1.6x10</text>
<text x="43.3" y="52.68" font-size="6.1" fill="#1a1a1a">-3</text>
<text transform="translate(43.00,15.60) scale(0.9,1)" font-size="10.0" text-anchor="end" fill="#1a1a1a">2.0x10</text>
<text x="43.3" y="10.50" font-size="6.1" fill="#1a1a1a">-3</text>
<text x="198.5" y="273.5" font-size="11.3" font-weight="bold" text-anchor="middle" fill="#000">Voltage (mV)</text>
<text transform="translate(9.4,129.9) rotate(-90)" font-size="11.3" font-weight="bold" text-anchor="middle" fill="#000">Current (<tspan font-weight="normal">&#181;</tspan> A)</text>
<path d="M59.2,9.00 H89.5" stroke="#000" stroke-width="2.0"/>
<use href="#l-black" x="74" y="9.00"/>
<text x="92.2" y="12.70" font-size="11.6" fill="#000">PANI/PTZ</text>
<path d="M59.2,23.44 H89.5" stroke="#ff0000" stroke-width="1.8"/>
<use href="#l-red" x="74" y="23.44"/>
<text x="92.2" y="27.14" font-size="11.6" fill="#000">PANI/PTZ/3 wt % CuS</text>
<path d="M59.2,37.88 H89.5" stroke="#00ff00" stroke-width="1.8"/>
<use href="#l-green" x="74" y="37.88"/>
<text x="92.2" y="41.58" font-size="11.6" fill="#000">PANI/PTZ/5 wt % CuS</text>
<path d="M59.2,52.32 H89.5" stroke="#0000ff" stroke-width="1.8"/>
<use href="#l-blue" x="74" y="52.32"/>
<text x="92.2" y="56.02" font-size="11.6" fill="#000">PANI/PTZ/7 wt % CuS</text>
<path d="M59.2,66.76 H89.5" stroke="#00ffff" stroke-width="1.8"/>
<use href="#l-cyan" x="74" y="66.76"/>
<text x="92.2" y="70.46" font-size="11.6" fill="#000">PANI/PTZ/10 wt % CuS</text>
<path d="M59.2,81.20 H89.5" stroke="#ff00ff" stroke-width="1.8"/>
<use href="#l-magenta" x="74" y="81.20"/>
<text x="92.2" y="84.90" font-size="11.6" fill="#000">PANI/PTZ/15 wt % CuS</text>
</svg></body></html>
